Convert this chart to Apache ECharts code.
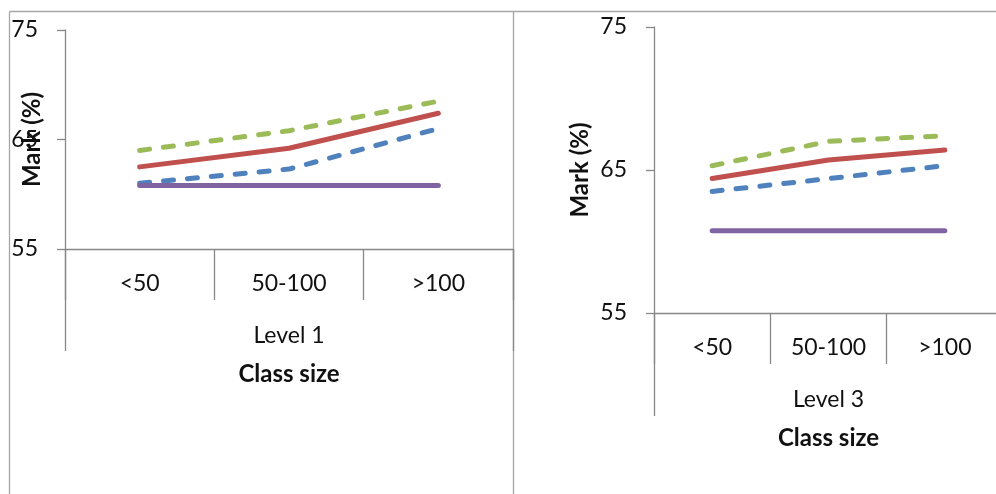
<!DOCTYPE html>
<html>
<head>
<meta charset="utf-8">
<script src="https://cdn.jsdelivr.net/npm/echarts@6/dist/echarts.min.js"></script>
<style>
  html, body { margin: 0; padding: 0; background: #fff; }
  #chart { width: 996px; height: 494px; }
</style>
</head>
<body>
<div id="chart"></div>
<script>
// Class-size categories and the two outer group labels
const categories = ['<50', '50-100', '>100'];
const groupLeft = ['Level 1'];
const groupRight = ['Level 3'];

// Y axis ticks
const yMin = 55, yMax = 75, yStep = 10;

// Level 1 marks (%)
const l1Blue   = [61.0, 62.3, 66.0];
const l1Red    = [62.5, 64.2, 67.4];
const l1Green  = [64.0, 65.8, 68.5];
const l1Purple = [60.8, 60.8, 60.8];

// Level 3 marks (%)
const l3Blue   = [63.5, 64.4, 65.3];
const l3Red    = [64.4, 65.7, 66.4];
const l3Green  = [65.3, 67.0, 67.4];
const l3Purple = [60.75, 60.75, 60.75];

const FONT = 'Lato';
const FS = 23;
const FSB = 24;
const AXIS = '#888888';
const TXT = '#111111';

function innerAxis(grid) {
  return {
    type: 'category', gridIndex: grid, position: 'bottom', data: categories,
    boundaryGap: true,
    axisLine: { show: true, lineStyle: { color: AXIS, width: 1.3 } },
    axisTick: { show: true, length: 51, inside: false, lineStyle: { color: AXIS, width: 1.3 } },
    axisLabel: { margin: 23.5, fontFamily: FONT, fontSize: FS, color: TXT },
    splitLine: { show: false }
  };
}
function outerAxis(grid, data, tickLen) {
  return {
    type: 'category', gridIndex: grid, position: 'bottom', data: data,
    boundaryGap: true,
    axisLine: { show: false },
    axisTick: { show: true, length: tickLen, lineStyle: { color: AXIS, width: 1.3 } },
    axisLabel: { margin: 75, fontFamily: FONT, fontSize: FS, color: TXT },
    name: 'Class size', nameLocation: 'middle', nameGap: 113, nameMoveOverlap: false,
    nameTextStyle: { fontFamily: FONT, fontSize: FSB, fontWeight: 'bold', color: TXT },
    splitLine: { show: false }
  };
}
function yAxis(grid, gap) {
  return {
    type: 'value', gridIndex: grid, min: yMin, max: yMax, interval: yStep,
    axisLine: { show: true, lineStyle: { color: AXIS, width: 1.3 } },
    axisTick: { show: true, length: 8, lineStyle: { color: AXIS, width: 1.3 } },
    axisLabel: { margin: 27, fontFamily: FONT, fontSize: FS, color: TXT },
    splitLine: { show: false },
    name: 'Mark (%)', nameLocation: 'middle', nameGap: gap, nameRotate: 90,
    nameMoveOverlap: false,
    nameTextStyle: { fontFamily: FONT, fontSize: FSB, fontWeight: 'bold', color: TXT }
  };
}
function line(xi, yi, data, color, dashed) {
  return {
    type: 'line', xAxisIndex: xi, yAxisIndex: yi, data: data,
    symbol: 'none', silent: true, animation: false,
    lineStyle: {
      color: color, width: 5, cap: 'round', join: 'round',
      type: dashed ? [10, 14] : 'solid'
    }
  };
}

const chart = echarts.init(document.getElementById('chart'), null, { renderer: 'canvas' });
chart.setOption({
  animation: false,
  backgroundColor: '#ffffff',
  grid: [
    { left: 65, top: 30, width: 448, height: 219, outerBoundsMode: 'none', containLabel: false },
    { left: 654, top: 27, width: 349, height: 286, outerBoundsMode: 'none', containLabel: false }
  ],
  xAxis: [
    innerAxis(0), outerAxis(0, groupLeft, 102),
    innerAxis(1), outerAxis(1, groupRight, 103)
  ],
  yAxis: [yAxis(0, 21), yAxis(1, 62)],
  series: [
    line(0, 0, l1Blue, '#4F81BD', true),
    line(0, 0, l1Red, '#C0504D', false),
    line(0, 0, l1Green, '#9BBB59', true),
    line(0, 0, l1Purple, '#8064A2', false),
    line(2, 1, l3Blue, '#4F81BD', true),
    line(2, 1, l3Red, '#C0504D', false),
    line(2, 1, l3Green, '#9BBB59', true),
    line(2, 1, l3Purple, '#8064A2', false)
  ],
  graphic: [
    // panel frames
    { type: 'line', silent: true, shape: { x1: 9.5, y1: 11.5, x2: 9.5, y2: 494 }, style: { stroke: '#a6a6a6', lineWidth: 1.3 } },
    { type: 'line', silent: true, shape: { x1: 513.5, y1: 11.5, x2: 513.5, y2: 494 }, style: { stroke: '#a6a6a6', lineWidth: 1.3 } },
    { type: 'line', silent: true, shape: { x1: 9.5, y1: 11.5, x2: 996, y2: 11.5 }, style: { stroke: '#a6a6a6', lineWidth: 1.3 } }
  ]
});
</script>
</body>
</html>
